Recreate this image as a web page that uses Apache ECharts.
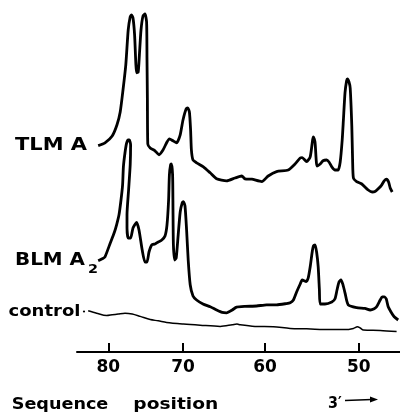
<!DOCTYPE html>
<html><head><meta charset="utf-8">
<script src="https://cdn.jsdelivr.net/npm/echarts@6/dist/echarts.min.js"></script>
<style>html,body{margin:0;padding:0;background:#fff}#c{width:400px;height:418px}</style>
</head><body><div id="c"></div>
<script>
// Sequence-position tick labels and where they fall along the scan (scan distance units)
const tickLabels = [80, 70, 60, 50];
const tickDistances = [7.83, 26.5, 47.0, 70.43];

// Densitometer traces: [scan distance, signal height]
const tlmA = [[5.3,51.6],[7.0,52.3],[8.8,54.0],[10.0,56.8],[10.8,60.0],[11.5,65.5],[12.2,71.8],[12.8,80.5],[13.3,83.8],[13.6,84.3],[14.0,83.5],[14.4,79.3],[14.9,69.8],[15.3,70.0],[15.6,74.3],[16.0,80.5],[16.5,84.0],[17.0,84.5],[17.4,82.5],[17.5,73.0],[17.6,63.0],[17.7,52.0],[18.3,51.0],[19.5,50.3],[20.5,49.3],[21.5,50.5],[22.5,52.5],[23.1,53.3],[24.0,52.8],[24.9,52.3],[25.8,54.3],[26.5,58.0],[27.3,60.8],[27.7,61.0],[28.1,60.0],[28.4,55.5],[28.6,50.5],[29.0,48.0],[29.9,47.3],[31.6,46.3],[33.3,44.8],[34.9,43.3],[37.4,42.8],[39.5,43.5],[41.2,44.0],[42.0,43.3],[43.7,43.2],[46.2,42.6],[47.8,44.0],[49.9,45.1],[52.8,45.5],[54.5,47.0],[55.8,48.5],[56.3,48.6],[57.4,47.6],[58.3,48.8],[58.9,53.0],[59.1,53.8],[59.5,52.5],[59.8,48.0],[60.0,46.5],[60.8,47.0],[61.5,47.8],[62.4,48.0],[63.0,47.5],[63.7,46.3],[64.5,45.5],[65.3,45.5],[65.8,47.5],[66.3,53.0],[66.6,58.0],[67.0,64.8],[67.4,67.8],[67.6,68.3],[68.0,67.5],[68.3,66.0],[68.7,56.5],[68.9,48.0],[69.1,43.5],[69.9,42.6],[71.2,42.0],[72.8,40.5],[73.8,40.0],[74.5,40.1],[75.3,40.8],[76.2,41.8],[76.8,42.8],[77.4,43.2],[77.9,42.5],[78.3,41.0],[78.8,40.0]];

const blmA2 = [[5.3,22.8],[6.3,23.3],[7.0,23.8],[8.3,27.2],[9.3,29.8],[9.9,31.8],[10.5,34.3],[11.0,38.0],[11.4,41.8],[11.6,46.3],[12.0,49.8],[12.4,52.2],[12.8,53.0],[13.1,53.0],[13.4,51.8],[13.3,46.8],[12.9,40.5],[12.5,34.3],[12.5,31.0],[12.8,28.5],[13.4,28.5],[14.0,31.0],[14.9,32.4],[15.5,30.5],[16.3,25.5],[17.0,22.5],[17.5,22.5],[18.0,25.0],[18.7,26.8],[19.5,27.0],[20.3,27.5],[21.2,28.0],[22.0,29.0],[22.5,31.8],[22.9,38.0],[23.1,44.3],[23.4,46.8],[23.6,47.0],[23.9,44.3],[24.0,35.5],[24.1,26.8],[24.4,23.0],[24.8,23.5],[25.3,29.3],[25.8,35.0],[26.3,37.3],[26.6,37.6],[27.0,36.5],[27.4,30.5],[27.8,23.0],[28.3,16.8],[29.0,14.0],[29.9,13.0],[31.5,12.0],[33.3,11.3],[34.9,10.5],[36.3,9.9],[37.4,9.8],[38.8,10.5],[39.9,11.2],[42.0,11.4],[44.9,11.5],[47.4,11.8],[49.9,11.8],[52.3,12.1],[53.3,12.3],[54.1,13.0],[54.9,15.0],[55.8,17.0],[56.3,18.0],[57.3,17.6],[57.8,18.5],[58.3,21.3],[58.8,25.0],[59.1,26.5],[59.5,26.8],[59.9,25.0],[60.3,21.3],[60.6,15.5],[60.8,12.0],[62.0,12.0],[63.7,12.5],[64.5,13.3],[65.0,15.5],[65.5,17.5],[66.0,18.0],[66.5,16.8],[67.0,14.8],[67.8,11.8],[69.9,11.1],[72.0,10.9],[73.3,10.5],[74.3,10.8],[74.9,11.3],[75.8,13.0],[76.3,13.8],[76.8,13.8],[77.3,13.3],[77.8,11.3],[78.5,10.0],[79.3,8.8],[80.3,8.0]];

const control = [[2.8,10.3],[4.9,9.7],[7.4,9.1],[8.8,9.3],[10.3,9.5],[12.0,9.7],[13.8,9.5],[15.8,8.9],[18.3,8.1],[20.3,7.8],[22.4,7.4],[26.6,7.0],[30.8,6.7],[35.8,6.4],[38.8,6.8],[40.0,7.0],[40.8,6.8],[44.5,6.4],[49.1,6.3],[53.3,5.9],[57.4,5.8],[63.3,5.6],[67.0,5.6],[69.1,5.9],[70.1,6.3],[70.8,6.0],[71.6,5.5],[75.8,5.4],[79.9,5.1]];

const FONT = '"DejaVu Sans", "Liberation Sans", sans-serif';
const mctx = document.createElement('canvas').getContext('2d');
function fitText(text, left, cy, width, size) {
  mctx.font = 'bold ' + size + 'px ' + FONT;
  const w = mctx.measureText(text).width || 1;
  return {
    type: 'text', x: left, y: cy, scaleX: width / w, silent: true,
    style: { text: text, fontSize: size, fontWeight: 'bold', fontFamily: FONT, fill: '#000',
             align: 'left', verticalAlign: 'middle', textAlign: 'left', textVerticalAlign: 'middle' }
  };
}

const chart = echarts.init(document.getElementById('c'), null, { renderer: 'canvas' });
chart.setOption({
  backgroundColor: '#fff',
  animation: false,
  grid: { left: 77, right: 0, top: 0, bottom: 66, containLabel: false },
  xAxis: {
    type: 'value', min: 0, max: 80.75,
    splitLine: { show: false },
    axisLine: { show: true, lineStyle: { color: '#000', width: 2 } },
    axisTick: { show: true, inside: true, length: 9, customValues: tickDistances, lineStyle: { color: '#000', width: 2 } },
    axisLabel: {
      show: true, customValues: tickDistances, margin: 7,
      fontSize: 17, fontWeight: 'bold', fontFamily: FONT, color: '#000',
      formatter: function (v) {
        for (let i = 0; i < tickDistances.length; i++) if (Math.abs(tickDistances[i] - v) < 0.01) return String(tickLabels[i]);
        return '';
      }
    }
  },
  yAxis: { type: 'value', min: 0, max: 88, show: false, splitLine: { show: false } },
  series: [
    { name: 'TLM A', type: 'line', data: tlmA, showSymbol: false, smooth: 0.2, lineStyle: { color: '#000', width: 2.8 } },
    { name: 'BLM A2', type: 'line', data: blmA2, showSymbol: false, smooth: 0.2, lineStyle: { color: '#000', width: 2.8 } },
    { name: 'control', type: 'line', data: control, showSymbol: false, smooth: 0.3, lineStyle: { color: '#000', width: 1.5 } }
  ],
  graphic: [
    fitText('TLM A', 15, 145.5, 72, 18),
    fitText('BLM A', 15, 260, 70, 18),
    fitText('2', 88, 269.5, 10, 13),
    fitText('control', 8.5, 312, 72, 15),
    { type: 'circle', silent: true, shape: { cx: 84, cy: 311.5, r: 1.1 }, style: { fill: '#000' } },
    fitText('Sequence', 11.7, 405.5, 96.6, 15),
    fitText('position', 133.3, 405.5, 85, 15),
    fitText('3\u2032', 328, 404, 13.7, 15),
    { type: 'line', silent: true, shape: { x1: 345, y1: 400.5, x2: 372, y2: 399.5 }, style: { stroke: '#000', lineWidth: 1.5 } },
    { type: 'polygon', silent: true, shape: { points: [[370, 396.5], [378, 399.5], [370, 402.5]] }, style: { fill: '#000' } }
  ]
});
</script>
</body></html>
